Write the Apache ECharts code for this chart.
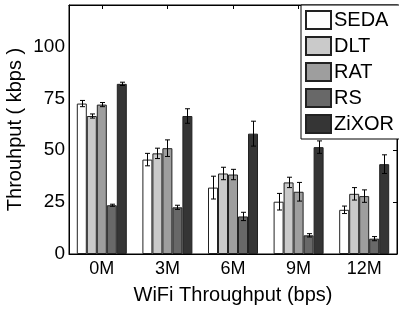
<!DOCTYPE html>
<html>
<head>
<meta charset="utf-8">
<script src="https://cdn.jsdelivr.net/npm/echarts@6/dist/echarts.min.js"></script>
<style>
  html, body { margin: 0; padding: 0; background: #fff; }
  #chart { width: 399px; height: 309px; }
</style>
</head>
<body>
<div id="chart"></div>
<script>
// throughput per WiFi load
var categories = ['0M', '3M', '6M', '9M', '12M'];
var names = ['SEDA', 'DLT', 'RAT', 'RS', 'ZiXOR'];
var colors = ['#ffffff', '#cacaca', '#9e9e9e', '#686868', '#353535'];

var seda = [72.5, 45.5, 32, 25.2, 21.3];
var dlt = [66.5, 48.5, 38.8, 34.5, 29];
var rat = [72, 51, 38.3, 30, 27.9];
var rs = [23.5, 22.5, 18.1, 9, 7.4];
var zixor = [82, 66.5, 58, 51.5, 43.3];

var sedaErr = [1.5, 3, 5.5, 4, 1.8];
var dltErr = [1, 2.5, 3, 2.5, 3];
var ratErr = [1, 4, 2.5, 4.5, 3];
var rsErr = [0.5, 1, 2, 0.8, 1];
var zixorErr = [0.8, 3.5, 6, 3, 4.5];

var yTicks = [0, 25, 50, 75, 100];

var values = [seda, dlt, rat, rs, zixor];
var errs = [sedaErr, dltErr, ratErr, rsErr, zixorErr];

var chart = echarts.init(document.getElementById('chart'));
var font = 'Liberation Sans, Arial, sans-serif';
var barW = 10;

var series = [];
names.forEach(function (n, i) {
    series.push({
        name: n,
        type: 'bar',
        barWidth: barW,
        barGap: '0%',
        data: values[i],
        itemStyle: { color: colors[i], borderColor: '#222', borderWidth: 1 }
    });
});
names.forEach(function (n, i) {
    var off = (i - 2) * barW;
    series.push({
        type: 'custom',
        silent: true,
        z: 10,
        data: values[i].map(function (v, k) { return [k, v - errs[i][k], v + errs[i][k]]; }),
        renderItem: function (params, api) {
            var lo = api.coord([api.value(0), api.value(1)]);
            var hi = api.coord([api.value(0), api.value(2)]);
            var x = Math.round(lo[0] + off) + 0.5;
            var c = 2.5;
            var st = { stroke: '#000', lineWidth: 1 };
            return {
                type: 'group',
                children: [
                    { type: 'line', shape: { x1: x, y1: lo[1], x2: x, y2: hi[1] }, style: st },
                    { type: 'line', shape: { x1: x - c, y1: lo[1], x2: x + c, y2: lo[1] }, style: st },
                    { type: 'line', shape: { x1: x - c, y1: hi[1], x2: x + c, y2: hi[1] }, style: st }
                ]
            };
        }
    });
});

var option = {
    animation: false,
    grid: {
        left: 69, right: 2, top: 5, bottom: 55,
        show: true, borderColor: '#000', borderWidth: 1,
        outerBoundsMode: 'none'
    },
    legend: {
        orient: 'vertical',
        left: 301,
        top: 5,
        data: names,
        itemWidth: 25,
        itemHeight: 18,
        itemGap: 6,
        padding: [5, 6, 5, 4],
        borderColor: '#000',
        borderWidth: 1,
        backgroundColor: '#fff',
        icon: 'rect',
        textStyle: { fontFamily: font, fontSize: 20, lineHeight: 18, color: '#000', padding: [0, 0, 0, -2] }
    },
    xAxis: [{
        type: 'category',
        data: categories,
        name: 'WiFi Throughput (bps)',
        nameLocation: 'middle',
        nameGap: 31,
        nameTextStyle: { fontFamily: font, fontSize: 20, color: '#000' },
        axisLine: { lineStyle: { color: '#000' } },
        axisTick: { inside: true, alignWithLabel: true, length: 4, lineStyle: { color: '#000' } },
        axisLabel: { fontFamily: font, fontSize: 18, color: '#000', margin: 6 },
        splitLine: { show: false }
    }, {
        type: 'category',
        data: categories,
        position: 'top',
        axisLine: { show: true, onZero: false, lineStyle: { color: '#000' } },
        axisTick: { show: true, inside: true, alignWithLabel: true, length: 4, lineStyle: { color: '#000' } },
        axisLabel: { show: false }
    }],
    yAxis: [{
        type: 'value',
        min: 0,
        max: 120,
        interval: 25,
        name: 'Throuhput ( kbps )',
        nameLocation: 'middle',
        nameGap: 44,
        nameMoveOverlap: false,
        nameTextStyle: { fontFamily: font, fontSize: 20, color: '#000' },
        axisLine: { show: true, lineStyle: { color: '#000' } },
        axisTick: { inside: true, length: 4, lineStyle: { color: '#000' } },
        axisLabel: {
            fontFamily: font, fontSize: 19, color: '#000', margin: 4,
            formatter: function (v) { return yTicks.indexOf(v) >= 0 ? v : ''; }
        },
        splitLine: { show: false }
    }, {
        type: 'value',
        min: 0,
        max: 120,
        interval: 25,
        position: 'right',
        axisLine: { show: true, onZero: false, lineStyle: { color: '#000' } },
        axisTick: { show: true, inside: true, length: 4, lineStyle: { color: '#000' } },
        axisLabel: { show: false },
        splitLine: { show: false }
    }],
    series: series
};
chart.setOption(option);
</script>
</body>
</html>
